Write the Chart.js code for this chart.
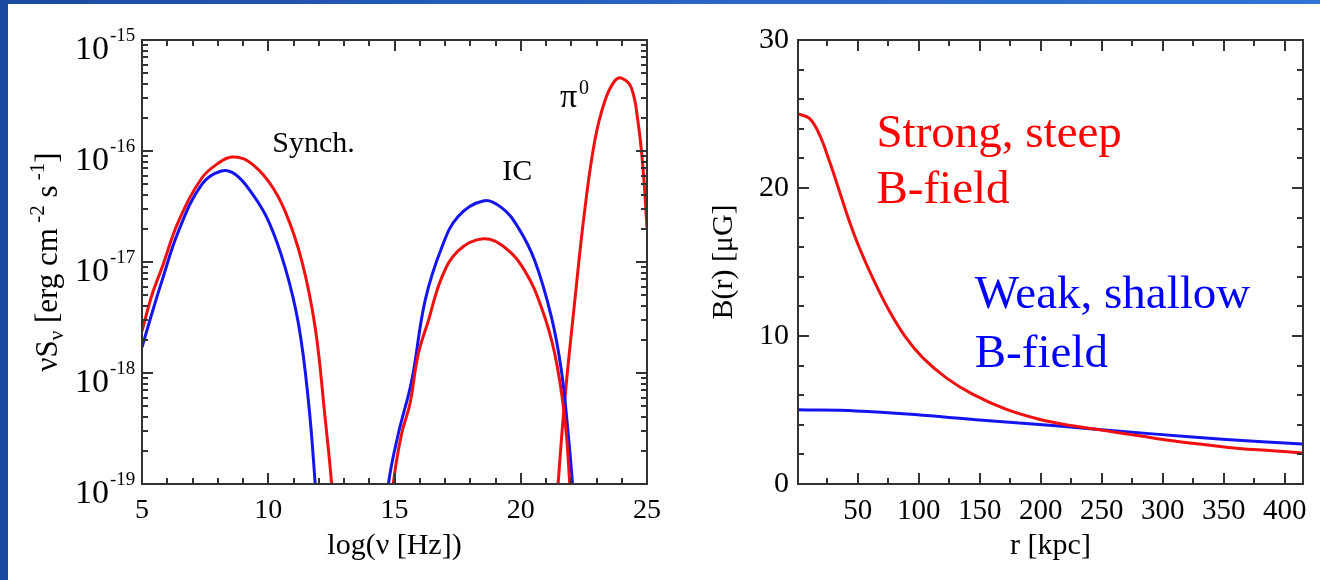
<!DOCTYPE html>
<html>
<head>
<meta charset="utf-8">
<script src="https://cdn.jsdelivr.net/npm/chart.js@4.4.1/dist/chart.umd.min.js"></script>
<style>
html,body{margin:0;padding:0;width:1320px;height:580px;overflow:hidden;
  background:linear-gradient(90deg,#1a4a9f 0%,#2a63c4 50%,#3273d8 100%);}
#panel{position:absolute;left:8px;top:4px;width:1312px;height:576px;background:#fff;}
.box{position:absolute;top:0;width:660px;height:580px;}
</style>
</head>
<body>
<div id="panel"></div>
<div class="box" style="left:0"><canvas id="sed"></canvas></div>
<div class="box" style="left:660px"><canvas id="bfield"></canvas></div>
<script>
// left panel: spectral energy distribution, log(nu) vs nuS_nu
const synchRedX = [5, 5.40, 5.79, 6.45, 7.37, 8.03, 8.56, 9.22, 10.01, 10.67, 11.33, 11.86, 12.25, 12.51, 12.65];
const synchRedY = [2.39e-18, 5.1e-18, 8.87e-18, 2.33e-17, 5.71e-17, 7.78e-17, 8.81e-17, 8.05e-17, 5.33e-17, 2.86e-17, 1.02e-17, 2.56e-18, 3.98e-19, 1.0e-19, 3.2e-20];
const synchBlueX = [5, 5.40, 5.79, 6.45, 7.37, 8.14, 8.69, 9.35, 10.01, 10.67, 11.20, 11.59, 11.86, 12.0];
const synchBlueY = [1.70e-18, 3.49e-18, 6.76e-18, 1.91e-17, 5.01e-17, 6.61e-17, 6.17e-17, 4.17e-17, 2.34e-17, 8.91e-18, 2.75e-18, 5.62e-19, 1.0e-19, 3.2e-20];
const icBlueX = [14.6, 14.76, 15.15, 15.68, 16.21, 16.87, 17.52, 18.51, 19.24, 19.90, 20.56, 21.22, 21.61, 21.88, 22.05, 22.2];
const icBlueY = [3.2e-20, 1.0e-19, 2.82e-19, 8.51e-19, 4.47e-18, 1.35e-17, 2.57e-17, 3.55e-17, 3.09e-17, 2.04e-17, 1.02e-17, 3.16e-18, 1.05e-18, 2.82e-19, 1.0e-19, 3.2e-20];
const icRedX = [14.8, 14.95, 15.28, 15.61, 15.94, 16.34, 16.87, 17.52, 18.51, 19.37, 20.16, 20.82, 21.35, 21.74, 21.94, 22.05];
const icRedY = [3.2e-20, 1.0e-19, 2.82e-19, 5.25e-19, 1.48e-18, 2.95e-18, 7.24e-18, 1.26e-17, 1.62e-17, 1.35e-17, 8.32e-18, 3.89e-18, 1.48e-18, 3.98e-19, 1.0e-19, 3.2e-20];
const pionX = [21.35, 21.48, 21.74, 22.14, 22.53, 22.93, 23.33, 23.72, 24.01, 24.38, 24.64, 24.84, 25.0];
const pionY = [3.2e-20, 1.0e-19, 5.62e-19, 4.47e-18, 2.88e-17, 1.23e-16, 2.82e-16, 4.27e-16, 4.52e-16, 3.72e-16, 1.86e-16, 7.08e-17, 2.04e-17];
const sedXTicks = [5, 10, 15, 20, 25];
const sedYTicks = [1e-19, 1e-18, 1e-17, 1e-16, 1e-15];

// right panel: magnetic field profiles
const steepR = [1, 10.4, 18.6, 26.8, 34.9, 43.1, 51.3, 62.2, 75.9, 89.5, 103.2, 122.3, 144.1, 171.4, 198.7, 226.0, 249.8, 280.6, 307.9, 335.2, 362.5, 389.8, 414.4];
const steepB = [25.0, 24.7, 23.6, 21.8, 19.8, 17.75, 15.96, 13.93, 11.69, 9.89, 8.54, 7.19, 6.07, 5.06, 4.38, 3.93, 3.64, 3.26, 2.92, 2.65, 2.40, 2.25, 2.09];
const shallowR = [1, 48.6, 103.2, 157.8, 212.4, 249.8, 294.3, 348.9, 414.4];
const shallowB = [5.01, 4.94, 4.65, 4.27, 3.93, 3.66, 3.37, 3.03, 2.70];
const rTicks = [50, 100, 150, 200, 250, 300, 350, 400];
const bTicks = [0, 10, 20, 30];

const RED = '#f01010', BLUE = '#1414f0';
const SERIF = '"Liberation Serif", "Times New Roman", serif';

function pts(xs, ys) { return xs.map((x, i) => ({ x, y: ys[i] })); }
function line(xs, ys, color) {
  return { data: pts(xs, ys), borderColor: color, borderWidth: 3, pointRadius: 0,
    tension: 0.4, clip: 0, fill: false };
}
// keep chart area exactly where the layout padding says
function noEdgePad(s) { s.paddingLeft = 0; s.paddingRight = 0; s.paddingTop = 0; s.paddingBottom = 0; }

// inward ticks on all four sides + frame
function drawFrame(chart, xMajor, xMinor, yMajor, yMinor) {
  const { ctx, chartArea: a, scales: { x, y } } = chart;
  ctx.save();
  ctx.strokeStyle = '#333';
  ctx.lineWidth = 2;
  const mark = (vals, len, horiz) => vals.forEach(v => {
    ctx.beginPath();
    if (horiz) {
      const p = Math.round(x.getPixelForValue(v));
      ctx.moveTo(p, a.bottom); ctx.lineTo(p, a.bottom - len);
      ctx.moveTo(p, a.top); ctx.lineTo(p, a.top + len);
    } else {
      const p = Math.round(y.getPixelForValue(v));
      ctx.moveTo(a.left, p); ctx.lineTo(a.left + len, p);
      ctx.moveTo(a.right, p); ctx.lineTo(a.right - len, p);
    }
    ctx.stroke();
  });
  mark(xMajor, 11, true); mark(xMinor, 6, true);
  mark(yMajor, 11, false); mark(yMinor, 6, false);
  ctx.strokeRect(a.left, a.top, a.right - a.left, a.bottom - a.top);
  ctx.restore();
}

function drawRich(ctx, parts, cx, cy, rot) {
  ctx.save();
  ctx.translate(cx, cy);
  ctx.rotate(rot);
  let total = 0;
  parts.forEach(p => { ctx.font = p.size + 'px ' + SERIF; p.w = ctx.measureText(p.t).width; total += p.w; });
  let px = -total / 2;
  ctx.textAlign = 'left'; ctx.textBaseline = 'alphabetic'; ctx.fillStyle = '#000';
  parts.forEach(p => { ctx.font = p.size + 'px ' + SERIF; ctx.fillText(p.t, px, p.dy || 0); px += p.w; });
  ctx.restore();
}

function text(ctx, s, x, y, size, color, align) {
  ctx.font = size + 'px ' + SERIF;
  ctx.fillStyle = color;
  ctx.textAlign = align || 'left';
  ctx.textBaseline = 'alphabetic';
  ctx.fillText(s, x, y);
}

const sedDecor = {
  id: 'sedDecor',
  afterDatasetsDraw(chart) {
    const { ctx, scales: { x, y } } = chart;
    const xMinor = [], yMinor = [];
    for (let v = 5; v <= 25; v++) if (v % 5) xMinor.push(v);
    for (let k = -19; k < -15; k++) for (let m = 2; m <= 9; m++) yMinor.push(m * Math.pow(10, k));
    drawFrame(chart, sedXTicks, xMinor, sedYTicks, yMinor);
    // y tick labels 10^k
    sedYTicks.forEach(v => {
      const p = y.getPixelForValue(v);
      const e = Math.round(Math.log10(v));
      text(ctx, '10', 109, p + 19, 34, '#000', 'right');
      text(ctx, String(e), 110, p + 1, 19, '#000', 'left');
    });
    // y title
    drawRich(ctx, [
      { t: 'νS', size: 31 }, { t: 'ν', size: 21, dy: 6 },
      { t: ' [erg cm', size: 31 }, { t: ' -2', size: 21, dy: -13 },
      { t: ' s', size: 31 }, { t: ' -1', size: 21, dy: -13 }, { t: ']', size: 31 }
    ], 57, 262, -Math.PI / 2);
    // component labels
    text(ctx, 'Synch.', x.getPixelForValue(10.16), y.getPixelForValue(9.86e-17), 30, '#000');
    text(ctx, 'IC', x.getPixelForValue(19.27), y.getPixelForValue(5.5e-17), 30, '#000');
    const px = x.getPixelForValue(21.55), py = y.getPixelForValue(2.49e-16);
    text(ctx, 'π', px, py, 34, '#000');
    ctx.font = '34px ' + SERIF;
    text(ctx, '0', px + ctx.measureText('π').width + 2, py - 13, 20, '#000');
  }
};

const bDecor = {
  id: 'bDecor',
  afterDatasetsDraw(chart) {
    const { ctx, scales: { x, y } } = chart;
    const xMinor = [], yMinor = [];
    for (let v = 25; v <= 400; v += 50) xMinor.push(v);
    for (let v = 2; v < 30; v += 2) if (v % 10) yMinor.push(v);
    drawFrame(chart, rTicks, xMinor, bTicks, yMinor);
    text(ctx, 'Strong, steep', x.getPixelForValue(65.3), y.getPixelForValue(22.8), 47, '#ff0000');
    text(ctx, 'B-field', x.getPixelForValue(65.3), y.getPixelForValue(18.97), 47, '#ff0000');
    text(ctx, 'Weak, shallow', x.getPixelForValue(145.9), y.getPixelForValue(11.87), 47, '#0000ff');
    text(ctx, 'B-field', x.getPixelForValue(145.9), y.getPixelForValue(7.93), 47, '#0000ff');
  }
};

Chart.defaults.font.family = SERIF;
Chart.defaults.color = '#000';

new Chart(document.getElementById('sed'), {
  type: 'line',
  data: { datasets: [
    line(synchRedX, synchRedY, RED), line(synchBlueX, synchBlueY, BLUE),
    line(icRedX, icRedY, RED), line(icBlueX, icBlueY, BLUE),
    line(pionX, pionY, RED)
  ] },
  options: {
    responsive: true, maintainAspectRatio: false, animation: false,
    layout: { padding: { top: 40, right: 13, left: 0, bottom: 0 } },
    plugins: { legend: { display: false }, tooltip: { enabled: false } },
    scales: {
      x: {
        type: 'linear', min: 5, max: 25,
        afterBuildTicks: s => { s.ticks = sedXTicks.map(v => ({ value: v })); },
        afterFit: s => { s.height = 96; noEdgePad(s); },
        grid: { display: false, drawTicks: false }, border: { display: false },
        ticks: { font: { size: 28 }, padding: 10, maxRotation: 0 },
        title: { display: true, text: 'log(ν [Hz])', font: { size: 30 }, padding: { top: 0, bottom: 16 } }
      },
      y: {
        type: 'logarithmic', min: 1e-19, max: 1e-15,
        afterFit: s => { s.width = 142; noEdgePad(s); },
        grid: { display: false, drawTicks: false }, border: { display: false },
        ticks: { display: false }
      }
    }
  },
  plugins: [sedDecor]
});

new Chart(document.getElementById('bfield'), {
  type: 'line',
  data: { datasets: [ line(steepR, steepB, RED), line(shallowR, shallowB, BLUE) ] },
  options: {
    responsive: true, maintainAspectRatio: false, animation: false,
    layout: { padding: { top: 40, right: 17, left: 0, bottom: 0 } },
    plugins: { legend: { display: false }, tooltip: { enabled: false } },
    scales: {
      x: {
        type: 'linear', min: 1, max: 415,
        afterBuildTicks: s => { s.ticks = rTicks.map(v => ({ value: v })); },
        afterFit: s => { s.height = 96; noEdgePad(s); },
        grid: { display: false, drawTicks: false }, border: { display: false },
        ticks: { font: { size: 29 }, padding: 10, maxRotation: 0 },
        title: { display: true, text: 'r [kpc]', font: { size: 30 }, padding: { top: 0, bottom: 16 } }
      },
      y: {
        type: 'linear', min: 0, max: 30,
        afterBuildTicks: s => { s.ticks = bTicks.map(v => ({ value: v })); },
        afterFit: s => { s.width = 138; noEdgePad(s); },
        grid: { display: false, drawTicks: false }, border: { display: false },
        ticks: { font: { size: 30 }, padding: 9 },
        title: { display: true, text: 'B(r) [μG]', font: { size: 30 }, padding: { top: 46, bottom: 0 } }
      }
    }
  },
  plugins: [bDecor]
});
</script>
</body>
</html>
